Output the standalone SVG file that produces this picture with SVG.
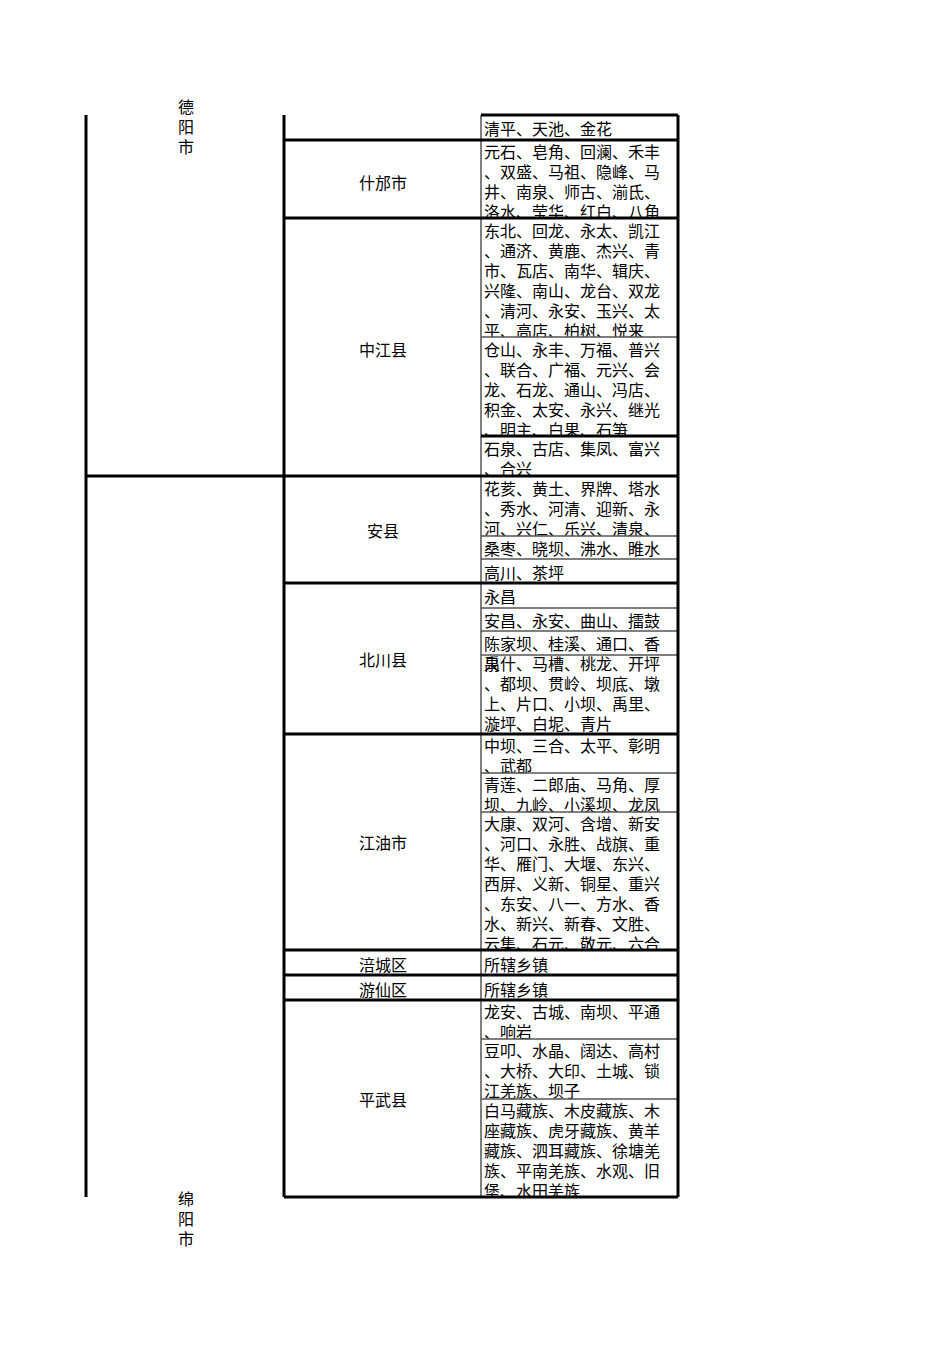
<svg xmlns="http://www.w3.org/2000/svg" width="950" height="1345" viewBox="0 0 950 1345">
<style>
text{font-family:"Liberation Serif","Noto Sans CJK SC",serif;font-size:16px;fill:#000}
.c{text-anchor:middle;dominant-baseline:central}
.thick{stroke:#000;stroke-width:3;fill:none}
.thin{stroke:#555;stroke-width:1.5;fill:none}
</style>
<defs>
<clipPath id="k1"><rect x="481" y="115" width="197" height="25"/></clipPath>
<clipPath id="k2"><rect x="481" y="140" width="197" height="78"/></clipPath>
<clipPath id="k3"><rect x="481" y="218" width="197" height="119"/></clipPath>
<clipPath id="k4"><rect x="481" y="337" width="197" height="99"/></clipPath>
<clipPath id="k5"><rect x="481" y="436" width="197" height="40"/></clipPath>
<clipPath id="k6"><rect x="481" y="476" width="197" height="60"/></clipPath>
<clipPath id="k12"><rect x="481" y="655" width="197" height="79"/></clipPath>
<clipPath id="k13"><rect x="481" y="734" width="197" height="39"/></clipPath>
<clipPath id="k14"><rect x="481" y="773" width="197" height="39"/></clipPath>
<clipPath id="k15"><rect x="481" y="812" width="197" height="138"/></clipPath>
<clipPath id="k18"><rect x="481" y="1000" width="197" height="39"/></clipPath>
<clipPath id="k19"><rect x="481" y="1039" width="197" height="60"/></clipPath>
<clipPath id="k20"><rect x="481" y="1099" width="197" height="98"/></clipPath>
</defs>
<g id="cities">
<text class="c" x="186" y="107">德</text><text class="c" x="186" y="127">阳</text><text class="c" x="186" y="147">市</text>
<text class="c" x="186" y="1199">绵</text><text class="c" x="186" y="1219">阳</text><text class="c" x="186" y="1239">市</text>
</g>
<g id="counties">
<text class="c" x="383" y="183">什邡市</text>
<text class="c" x="383" y="350">中江县</text>
<text class="c" x="383" y="531">安县</text>
<text class="c" x="383" y="660">北川县</text>
<text class="c" x="383" y="843">江油市</text>
<text class="c" x="383" y="965">涪城区</text>
<text class="c" x="383" y="990">游仙区</text>
<text class="c" x="383" y="1100">平武县</text>
</g>
<g id="towns">
<g clip-path="url(#k1)"><text x="484" y="135">清平、天池、金花</text></g>
<g clip-path="url(#k2)"><text x="484" y="158">元石、皂角、回澜、禾丰</text><text x="484" y="178">、双盛、马祖、隐峰、马</text><text x="484" y="198">井、南泉、师古、湔氐、</text><text x="484" y="218">洛水、莹华、红白、八角</text></g>
<g clip-path="url(#k3)"><text x="484" y="237">东北、回龙、永太、凯江</text><text x="484" y="257">、通济、黄鹿、杰兴、青</text><text x="484" y="277">市、瓦店、南华、辑庆、</text><text x="484" y="297">兴隆、南山、龙台、双龙</text><text x="484" y="317">、清河、永安、玉兴、太</text><text x="484" y="337">平、高店、柏树、悦来</text></g>
<g clip-path="url(#k4)"><text x="484" y="356">仓山、永丰、万福、普兴</text><text x="484" y="376">、联合、广福、元兴、会</text><text x="484" y="396">龙、石龙、通山、冯店、</text><text x="484" y="416">积金、太安、永兴、继光</text><text x="484" y="436">、明主、白果、石笋</text></g>
<g clip-path="url(#k5)"><text x="484" y="455">石泉、古店、集凤、富兴</text><text x="484" y="475">、合兴</text></g>
<g clip-path="url(#k6)"><text x="484" y="495">花荄、黄土、界牌、塔水</text><text x="484" y="515">、秀水、河清、迎新、永</text><text x="484" y="535">河、兴仁、乐兴、清泉、</text></g>
<text x="484" y="555">桑枣、晓坝、沸水、睢水</text>
<text x="484" y="579">高川、茶坪</text>
<text x="484" y="603">永昌</text>
<text x="484" y="627">安昌、永安、曲山、擂鼓</text>
<text x="484" y="650">陈家坝、桂溪、通口、香</text><text x="484" y="670">泉</text>
<g clip-path="url(#k12)"><text x="484" y="670">禹什、马槽、桃龙、开坪</text><text x="484" y="690">、都坝、贯岭、坝底、墩</text><text x="484" y="710">上、片口、小坝、禹里、</text><text x="484" y="730">漩坪、白坭、青片</text></g>
<g clip-path="url(#k13)"><text x="484" y="752">中坝、三合、太平、彰明</text><text x="484" y="772">、武都</text></g>
<g clip-path="url(#k14)"><text x="484" y="791">青莲、二郎庙、马角、厚</text><text x="484" y="811">坝、九岭、小溪坝、龙凤</text></g>
<g clip-path="url(#k15)"><text x="484" y="830">大康、双河、含增、新安</text><text x="484" y="850">、河口、永胜、战旗、重</text><text x="484" y="870">华、雁门、大堰、东兴、</text><text x="484" y="890">西屏、义新、铜星、重兴</text><text x="484" y="910">、东安、八一、方水、香</text><text x="484" y="930">水、新兴、新春、文胜、</text><text x="484" y="950">云集、石元、敬元、六合</text></g>
<text x="484" y="971">所辖乡镇</text>
<text x="484" y="996">所辖乡镇</text>
<g clip-path="url(#k18)"><text x="484" y="1018">龙安、古城、南坝、平通</text><text x="484" y="1038">、响岩</text></g>
<g clip-path="url(#k19)"><text x="484" y="1057">豆叩、水晶、阔达、高村</text><text x="484" y="1077">、大桥、大印、土城、锁</text><text x="484" y="1097">江羌族、坝子</text></g>
<g clip-path="url(#k20)"><text x="484" y="1117">白马藏族、木皮藏族、木</text><text x="484" y="1137">座藏族、虎牙藏族、黄羊</text><text x="484" y="1157">藏族、泗耳藏族、徐塘羌</text><text x="484" y="1177">族、平南羌族、水观、旧</text><text x="484" y="1197">堡、水田羌族</text></g>
</g>
<g id="grid">
<path class="thin" d="M481 115V1197M481 337H678M481 536H678M481 559H678M481 608H678M481 631H678M481 655H678M481 773H678M481 812H678M481 1039H678M481 1099H678"/>
<path class="thick" d="M86 115V1197M284 115V1197M678 115V1197M481 115H678M284 140H678M284 218H678M481 436H678M86 476H678M284 583H678M284 734H678M284 950H678M284 975H678M284 1000H678M284 1197H678"/>
</g>
</svg>
